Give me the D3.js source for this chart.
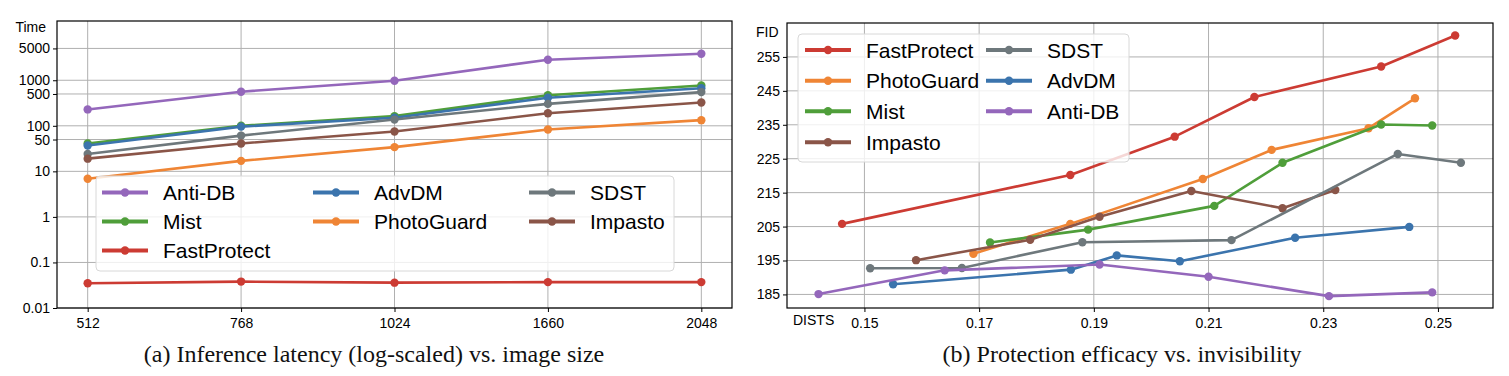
<!DOCTYPE html>
<html>
<head>
<meta charset="utf-8">
<script src="https://cdn.jsdelivr.net/npm/d3@7"></script>
<style>
  body { margin: 0; background: #fff; }
  svg { display: block; }
  text { font-family: "Liberation Sans", Arial, sans-serif; fill: #000; }
  .caption { font-family: "Liberation Serif", "Times New Roman", serif; font-size: 24px; fill: #111; }
</style>
</head>
<body>
<script>
// ---- data: (a) latency vs image size ----
const sizes = ["512", "768", "1024", "1660", "2048"];
const timeTicks = [0.01, 0.1, 1, 10, 50, 100, 500, 1000, 5000];
const latAntiDB = [229, 560, 975, 2830, 3820];
const latMist = [41, 100, 163, 470, 770];
const latFastProtect = [0.035, 0.038, 0.036, 0.037, 0.037];
const latAdvDM = [37, 96, 150, 414, 670];
const latPhotoGuard = [6.9, 17, 34, 83, 133];
const latSDST = [24, 61, 137, 303, 550];
const latImpasto = [19, 41, 75, 189, 325];

// ---- data: (b) FID vs DISTS ----
const distsTicks = [0.15, 0.17, 0.19, 0.21, 0.23, 0.25];
const fidTicks = [185, 195, 205, 215, 225, 235, 245, 255];
const fpX = [0.1461, 0.1859, 0.2041, 0.2180, 0.2401, 0.2530];
const fpY = [205.8, 220.2, 231.5, 243.2, 252.2, 261.3];
const pgX = [0.169, 0.1859, 0.209, 0.221, 0.2379, 0.246];
const pgY = [197.0, 205.8, 219.0, 227.6, 234.0, 242.8];
const mistX = [0.1719, 0.189, 0.211, 0.2229, 0.2401, 0.249];
const mistY = [200.3, 204.1, 211.1, 223.8, 235.1, 234.8];
const impX = [0.159, 0.1789, 0.191, 0.207, 0.2229, 0.2321];
const impY = [195.1, 201.1, 207.9, 215.5, 210.4, 215.8];
const sdstX = [0.151, 0.167, 0.188, 0.214, 0.243, 0.254];
const sdstY = [192.7, 192.8, 200.4, 201.0, 226.4, 223.8];
const advX = [0.155, 0.186, 0.194, 0.205, 0.2251, 0.245];
const advY = [188.0, 192.3, 196.5, 194.8, 201.7, 204.9];
const antiX = [0.142, 0.164, 0.191, 0.21, 0.231, 0.249];
const antiY = [185.1, 192.1, 193.8, 190.2, 184.5, 185.6];

const color = {
  "FastProtect": "#cc3b33",
  "PhotoGuard": "#ef8535",
  "Mist": "#4f9e3a",
  "Impasto": "#8a5548",
  "SDST": "#6e787c",
  "AdvDM": "#3b74ad",
  "Anti-DB": "#9467bb"
};

const W = 1509, H = 376;
const svg = d3.select("body").append("svg").attr("width", W).attr("height", H);

function frame(g, x0, x1, y0, y1) {
  g.append("rect").attr("x", x0).attr("y", y0).attr("width", x1 - x0).attr("height", y1 - y0)
    .attr("fill", "none").attr("stroke", "#000").attr("stroke-width", 1.2);
}

function drawSeries(g, name, pts, x, y) {
  const c = color[name];
  g.append("path").datum(pts)
    .attr("fill", "none").attr("stroke", c).attr("stroke-width", 2.6)
    .attr("stroke-linejoin", "round")
    .attr("d", d3.line().x(d => x(d[0])).y(d => y(d[1])));
  g.selectAll(null).data(pts).join("circle")
    .attr("cx", d => x(d[0])).attr("cy", d => y(d[1])).attr("r", 4.2).attr("fill", c);
}

// columns: list of item-name lists, one per legend column (matplotlib fills column-major)
function legend(g, columns, box, cols, rows) {
  g.append("rect").attr("x", box[0]).attr("y", box[1])
    .attr("width", box[2] - box[0]).attr("height", box[3] - box[1])
    .attr("rx", 4).attr("fill", "#fff").attr("fill-opacity", 0.8)
    .attr("stroke", "#d8d8d8").attr("stroke-width", 1);
  columns.forEach((names, ci) => names.forEach((name, ri) => {
    const hx = cols[ci], yy = rows[ri];
    g.append("line").attr("x1", hx).attr("x2", hx + 46).attr("y1", yy).attr("y2", yy)
      .attr("stroke", color[name]).attr("stroke-width", 4);
    g.append("circle").attr("cx", hx + 23).attr("cy", yy).attr("r", 4.2).attr("fill", color[name]);
    g.append("text").attr("x", hx + 61).attr("y", yy).attr("dy", "0.36em")
      .style("font-size", "21px").text(name);
  }));
}

// ================= (a) =================
{
  const x0 = 57, x1 = 732, y0 = 21, y1 = 308;
  const g = svg.append("g");
  const x = d3.scaleLinear().domain([-0.2, sizes.length - 0.8]).range([x0, x1]);
  const y = d3.scaleLog().domain([0.01, 20000]).range([y1, y0]);

  const grid = g.append("g").attr("stroke", "#b0b0b0").attr("stroke-width", 1);
  sizes.forEach((s, i) => grid.append("line").attr("x1", x(i)).attr("x2", x(i)).attr("y1", y0).attr("y2", y1));
  timeTicks.forEach(t => grid.append("line").attr("x1", x0).attr("x2", x1).attr("y1", y(t)).attr("y2", y(t)));

  const series = [
    ["Anti-DB", latAntiDB], ["Mist", latMist], ["FastProtect", latFastProtect],
    ["AdvDM", latAdvDM], ["PhotoGuard", latPhotoGuard], ["SDST", latSDST], ["Impasto", latImpasto]
  ];
  series.forEach(([n, v]) => drawSeries(g, n, v.map((d, i) => [i, d]), x, y));

  const yAxis = d3.axisLeft(y).tickValues(timeTicks).tickFormat(d3.format("~g")).tickSize(4).tickPadding(3);
  g.append("g").attr("transform", `translate(${x0},0)`).call(yAxis)
    .call(a => a.select(".domain").remove())
    .call(a => a.selectAll("text").style("font-size", "14px").attr("font-family", null));
  const xAxis = d3.axisBottom(x).tickValues(d3.range(sizes.length)).tickFormat(i => sizes[i]).tickSize(4).tickPadding(6);
  g.append("g").attr("transform", `translate(0,${y1})`).call(xAxis)
    .call(a => a.select(".domain").remove())
    .call(a => a.selectAll("text").style("font-size", "14px").attr("font-family", null));

  frame(g, x0, x1, y0, y1);
  g.append("text").attr("x", 46).attr("y", 32).attr("text-anchor", "end").style("font-size", "14px").text("Time");

  const names = series.map(s => s[0]);
  legend(g, [names.slice(0, 3), names.slice(3, 5), names.slice(5)],
    [96, 176, 674, 271], [102, 313, 529], [192.5, 221.5, 250.5]);

  g.append("text").attr("class", "caption").attr("x", 374).attr("y", 362)
    .attr("text-anchor", "middle").text("(a) Inference latency (log-scaled) vs. image size");
}

// ================= (b) =================
{
  const x0 = 787, x1 = 1493, y0 = 23, y1 = 308;
  const g = svg.append("g");
  const x = d3.scaleLinear().domain([0.1365, 0.2596]).range([x0, x1]);
  const y = d3.scaleLinear().domain([181, 265]).range([y1, y0]);

  const grid = g.append("g").attr("stroke", "#b0b0b0").attr("stroke-width", 1);
  distsTicks.forEach(t => grid.append("line").attr("x1", x(t)).attr("x2", x(t)).attr("y1", y0).attr("y2", y1));
  fidTicks.forEach(t => grid.append("line").attr("x1", x0).attr("x2", x1).attr("y1", y(t)).attr("y2", y(t)));

  const zip = (a, b) => a.map((d, i) => [d, b[i]]);
  const series = [
    ["FastProtect", zip(fpX, fpY)], ["PhotoGuard", zip(pgX, pgY)], ["Mist", zip(mistX, mistY)],
    ["Impasto", zip(impX, impY)], ["SDST", zip(sdstX, sdstY)], ["AdvDM", zip(advX, advY)],
    ["Anti-DB", zip(antiX, antiY)]
  ];
  series.forEach(([n, v]) => drawSeries(g, n, v, x, y));

  const yAxis = d3.axisLeft(y).tickValues(fidTicks).tickFormat(d3.format("d")).tickSize(4).tickPadding(3);
  g.append("g").attr("transform", `translate(${x0},0)`).call(yAxis)
    .call(a => a.select(".domain").remove())
    .call(a => a.selectAll("text").style("font-size", "14px").attr("font-family", null));
  const xAxis = d3.axisBottom(x).tickValues(distsTicks).tickFormat(d3.format(".2f")).tickSize(4).tickPadding(6);
  g.append("g").attr("transform", `translate(0,${y1})`).call(xAxis)
    .call(a => a.select(".domain").remove())
    .call(a => a.selectAll("text").style("font-size", "14px").attr("font-family", null));

  frame(g, x0, x1, y0, y1);
  g.append("text").attr("x", 756).attr("y", 37).style("font-size", "14px").text("FID");
  g.append("text").attr("x", 793).attr("y", 325).style("font-size", "14px").text("DISTS");

  const names = series.map(s => s[0]);
  legend(g, [names.slice(0, 4), names.slice(4)],
    [798, 34, 1129, 162], [805, 986], [50, 80.7, 111.2, 142.2]);

  g.append("text").attr("class", "caption").attr("x", 1122).attr("y", 362)
    .attr("text-anchor", "middle").text("(b) Protection efficacy vs. invisibility");
}
</script>
</body>
</html>
